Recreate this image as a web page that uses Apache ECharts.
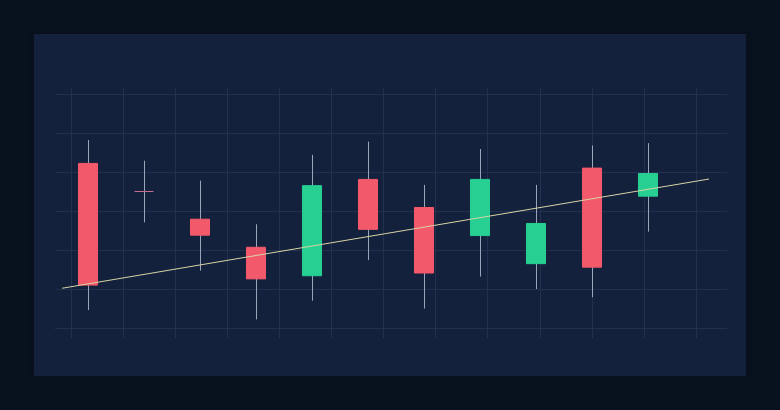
<!DOCTYPE html>
<html><head><meta charset="utf-8">
<script src="https://cdn.jsdelivr.net/npm/echarts@6/dist/echarts.min.js"></script>
<style>html,body{margin:0;padding:0;background:#08121f}#c{width:780px;height:410px}</style>
</head><body><div id="c"></div>
<script>
// ---- data ----
const categories = ['P1','P2','P3','P4','P5','P6','P7','P8','P9','P10','P11'];
const opens  = [132.2, 125.0, 117.9, 110.7, 103.4, 128.1, 120.9, 113.7, 106.5, 131.0, 123.8];
const closes = [101.0, 125.0, 113.8, 102.6, 126.5, 115.3, 104.1, 128.1, 116.8, 105.6, 129.6];
const lows   = [ 94.6, 117.1, 104.7,  92.2,  97.0, 107.4,  95.0, 103.2, 100.0,  97.9, 114.7];
const highs  = [138.2, 132.9, 127.8, 116.6, 134.4, 137.8, 126.7, 135.9, 126.7, 136.8, 137.4];
const trendX = [-0.46, 11.09];
const trendY = [100.2, 128.2];
const yTicks = [90, 100, 110, 120, 130, 140, 150];

const UP = '#27d092', DOWN = '#f2596a', DOJI = '#c86d90', WICK = '#a9b4c6', GRIDC = '#22324e';

const candleData = categories.map((c, i) => [i, opens[i], closes[i], lows[i], highs[i]]);

const chart = echarts.init(document.getElementById('c'), null, {renderer: 'canvas'});
chart.setOption({
  backgroundColor: '#08121f',
  animation: false,
  graphic: [{
    type: 'rect', z: -10, silent: true,
    shape: {x: 34, y: 34, width: 712, height: 342},
    style: {fill: '#13213c', shadowBlur: 6, shadowColor: 'rgba(0,0,0,0.35)'}
  }],
  grid: [
    {left: 55, right: 53, top: 94, bottom: 82, show: false},
    {left: 71, right: 84, top: 88, bottom: 72, show: false}
  ],
  xAxis: [
    {type: 'value', gridIndex: 0, min: -0.589, max: 11.411, show: true,
     axisLine: {show: false}, axisTick: {show: false}, axisLabel: {show: false}, splitLine: {show: false}},
    {type: 'value', gridIndex: 1, min: 0, max: 12, interval: 1,
     axisLine: {show: false}, axisTick: {show: false}, axisLabel: {show: false},
     splitLine: {show: true, lineStyle: {color: GRIDC, width: 1}}}
  ],
  yAxis: [
    {type: 'value', gridIndex: 0, min: yTicks[0], max: yTicks[yTicks.length - 1], interval: 10,
     axisLine: {show: false}, axisTick: {show: false}, axisLabel: {show: false},
     splitLine: {show: true, lineStyle: {color: GRIDC, width: 1}}},
    {type: 'value', gridIndex: 1, min: 0, max: 1,
     axisLine: {show: false}, axisTick: {show: false}, axisLabel: {show: false}, splitLine: {show: false}}
  ],
  series: [
    {
      type: 'custom', xAxisIndex: 0, yAxisIndex: 0, z: 3,
      data: candleData,
      renderItem: function (params, api) {
        const i = api.value(0), o = api.value(1), c = api.value(2), l = api.value(3), h = api.value(4);
        const pO = api.coord([i, o]), pC = api.coord([i, c]);
        const pL = api.coord([i, l]), pH = api.coord([i, h]);
        const w = api.size([1, 0])[0] * 0.34;
        const x = Math.round(pO[0]);
        const color = c > o ? UP : DOWN;
        const children = [{
          type: 'line',
          shape: {x1: x + 0.5, y1: pH[1], x2: x + 0.5, y2: pL[1]},
          style: {stroke: WICK, lineWidth: 1, opacity: 0.9}
        }];
        if (Math.abs(pO[1] - pC[1]) < 0.5) {
          children.push({
            type: 'line',
            shape: {x1: x - w / 2, y1: Math.round(pO[1]) - 0.5, x2: x + w / 2, y2: Math.round(pO[1]) - 0.5},
            style: {stroke: DOJI, lineWidth: 1}
          });
        } else {
          const top = Math.min(pO[1], pC[1]);
          children.push({
            type: 'rect',
            shape: {x: x - w / 2, y: top, width: w, height: Math.abs(pO[1] - pC[1])},
            style: {fill: color, stroke: color, lineWidth: 1}
          });
        }
        return {type: 'group', children: children};
      }
    },
    {
      type: 'line', xAxisIndex: 0, yAxisIndex: 0, z: 4,
      data: trendX.map((x, k) => [x, trendY[k]]),
      symbol: 'none', silent: true,
      lineStyle: {color: '#d9d3a4', width: 1}
    }
  ]
});
</script>
</body></html>
